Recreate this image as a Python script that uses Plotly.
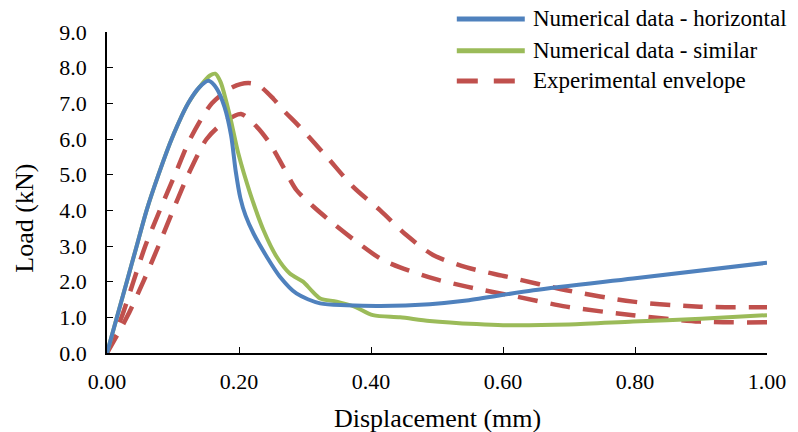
import plotly.graph_objects as go

# ---- data ----
horiz_x = [0, 0.015, 0.030, 0.045, 0.060, 0.078, 0.098, 0.123, 0.140, 0.154, 0.166, 0.178,
           0.188, 0.195, 0.202, 0.210, 0.222, 0.242, 0.262, 0.287, 0.323, 0.363, 0.414, 0.489,
           0.545, 0.646, 0.797, 1.0]
horiz_y = [0, 1.0, 2.0, 3.0, 4.0, 5.0, 6.0, 7.0, 7.45, 7.63, 7.42, 6.9,
           6.1, 5.1, 4.35, 3.85, 3.35, 2.7, 2.14, 1.67, 1.39, 1.34, 1.32, 1.37,
           1.47, 1.76, 2.09, 2.53]

sim_x = [0, 0.015, 0.030, 0.045, 0.060, 0.078, 0.098, 0.123, 0.142, 0.156, 0.164, 0.172,
         0.180, 0.188, 0.199, 0.217, 0.237, 0.257, 0.277, 0.297, 0.310, 0.323, 0.348,
         0.375, 0.403, 0.444, 0.489, 0.560, 0.600, 0.700, 0.797, 0.900, 1.0]
sim_y = [0, 1.0, 2.0, 3.0, 4.0, 5.0, 6.0, 7.0, 7.5, 7.78, 7.83, 7.6,
         7.1, 6.5, 5.59, 4.47, 3.45, 2.7, 2.23, 2.0, 1.75, 1.53, 1.44,
         1.3, 1.06, 1.0, 0.9, 0.81, 0.78, 0.8, 0.88, 0.96, 1.06]

exp_up_x = [0, 0.022, 0.040, 0.058, 0.080, 0.103, 0.126, 0.159, 0.190, 0.214, 0.230, 0.252,
            0.267, 0.292, 0.333, 0.373, 0.414, 0.454, 0.494, 0.545, 0.606, 0.696, 0.797,
            0.898, 1.0]
exp_up_y = [0, 1.0, 2.0, 3.0, 4.0, 5.0, 6.0, 7.0, 7.45, 7.57, 7.5, 7.13,
            6.81, 6.34, 5.5, 4.66, 4.0, 3.3, 2.75, 2.4, 2.14, 1.76, 1.44,
            1.3, 1.28]

exp_lo_x = [0, 0.030, 0.055, 0.078, 0.100, 0.123, 0.151, 0.176, 0.203, 0.227, 0.247, 0.267,
            0.287, 0.313, 0.343, 0.378, 0.414, 0.444, 0.494, 0.545, 0.621, 0.696, 0.797,
            0.898, 1.0]
exp_lo_y = [0, 1.0, 2.0, 3.0, 4.0, 5.0, 6.0, 6.45, 6.7, 6.34, 5.87, 5.22,
            4.57, 4.1, 3.63, 3.12, 2.65, 2.4, 2.09, 1.86, 1.58, 1.3, 1.06,
            0.88, 0.86]

series_names = ["Numerical data - horizontal", "Numerical data - similar", "Experimental envelope"]
x_ticks = [0, 0.2, 0.4, 0.6, 0.8, 1.0]
y_ticks = [0, 1, 2, 3, 4, 5, 6, 7, 8, 9]

BLUE = "#4F81BD"
GREEN = "#9BBB59"
RED = "#C0504D"
FONT = "Liberation Serif"

fig = go.Figure()
fig.add_trace(go.Scatter(x=exp_up_x, y=exp_up_y, mode="lines", showlegend=False,
                         line=dict(color=RED, width=4.5, dash="20px,13px", shape="spline", smoothing=0.8)))
fig.add_trace(go.Scatter(x=exp_lo_x, y=exp_lo_y, mode="lines", showlegend=False,
                         line=dict(color=RED, width=4.5, dash="20px,13px", shape="spline", smoothing=0.8)))
fig.add_trace(go.Scatter(x=sim_x, y=sim_y, mode="lines", showlegend=False,
                         line=dict(color=GREEN, width=4, shape="spline", smoothing=0.8)))
fig.add_trace(go.Scatter(x=horiz_x, y=horiz_y, mode="lines", showlegend=False,
                         line=dict(color=BLUE, width=4, shape="spline", smoothing=0.8)))

# manual legend (paper coordinates)
leg_rows = [1.0405, 0.9418, 0.8474]
leg_colors = [BLUE, GREEN, RED]
leg_dash = ["solid", "solid", "21px,16px"]
for name, yy, col, ds in zip(series_names, leg_rows, leg_colors, leg_dash):
    fig.add_shape(type="line", xref="paper", yref="paper", x0=0.530, x1=0.633, y0=yy, y1=yy,
                  line=dict(color=col, width=5, dash=ds))
    fig.add_annotation(xref="paper", yref="paper", x=0.643, y=yy, text=name, showarrow=False,
                       xanchor="left", yanchor="middle", font=dict(family=FONT, size=23, color="black"))

fig.add_annotation(xref="paper", yref="paper", x=0.5, y=-0.205, text="Displacement (mm)",
                   showarrow=False, xanchor="center", yanchor="middle",
                   font=dict(family=FONT, size=26, color="black"))
fig.add_annotation(xref="paper", yref="paper", x=-0.125, y=0.42, text="Load (kN)", textangle=-90,
                   showarrow=False, xanchor="center", yanchor="middle",
                   font=dict(family=FONT, size=26, color="black"))

fig.update_layout(
    width=798, height=432,
    margin=dict(l=107, r=31, t=32, b=79),
    paper_bgcolor="white", plot_bgcolor="white",
    font=dict(family=FONT, size=22, color="black"),
    showlegend=False,
)
fig.update_xaxes(range=[0, 1.0], tickvals=x_ticks, tickformat=".2f", ticks="inside", ticklen=6,
                 tickcolor="black", showline=True, linecolor="black", linewidth=1.5,
                 showgrid=False, zeroline=False, ticklabelstandoff=8)
fig.update_yaxes(range=[0, 9], tickvals=y_ticks, tickformat=".1f", ticks="inside", ticklen=6,
                 tickcolor="black", showline=True, linecolor="black", linewidth=1.5,
                 showgrid=False, zeroline=False, ticklabelstandoff=14)

fig.write_html("out.html", config={"displayModeBar": False},
               post_script="document.body.style.margin='0';document.body.style.overflow='hidden';")
